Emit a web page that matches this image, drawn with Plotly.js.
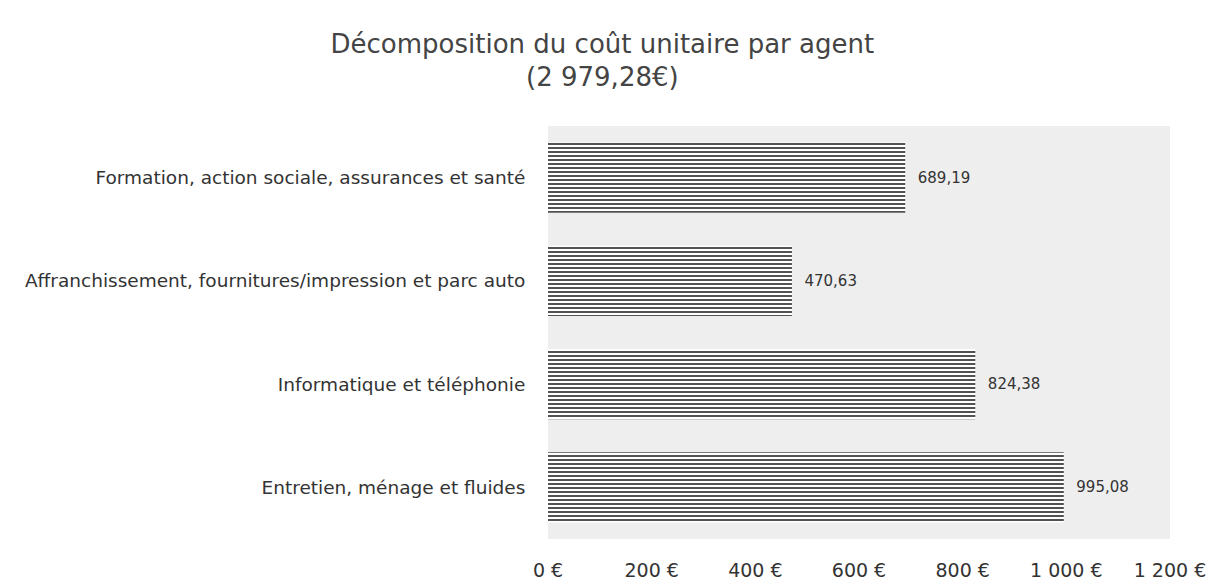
<!DOCTYPE html>
<html><head><meta charset="utf-8">
<script src="https://cdn.plot.ly/plotly-3.0.1.min.js"></script>
<style>body{margin:0;background:#fff}</style>
</head><body>
<div id="chart" style="width:1212px;height:584px"></div>
<script>
const categories = [
  "Formation, action sociale, assurances et santé",
  "Affranchissement, fournitures/impression et parc auto",
  "Informatique et téléphonie",
  "Entretien, ménage et fluides"
];
const values = [689.19, 470.63, 824.38, 995.08];
const tickValues = [0, 200, 400, 600, 800, 1000, 1200];
const tickLabels = ["0 €", "200 €", "400 €", "600 €", "800 €", "1 000 €", "1 200 €"];
const titleText = "Décomposition du coût unitaire par agent<br>(2 979,28€)";

const FONT = "'DejaVu Sans', sans-serif";

const trace = {
  type: "bar",
  orientation: "h",
  y: categories,
  x: values,
  width: 0.68,
  marker: {
    color: "#ffffff",
    line: {width: 0},
    pattern: {shape: "-", fgcolor: "#262626", bgcolor: "#ffffff", size: 4, solidity: 0.4}
  },
  texttemplate: "  %{x:.2f}",
  textposition: "outside",
  cliponaxis: false,
  textfont: {family: FONT, size: 15, color: "#333"},
  hoverinfo: "none"
};

const layout = {
  width: 1212, height: 584,
  separators: ", ",
  paper_bgcolor: "#ffffff",
  plot_bgcolor: "#eeeeee",
  margin: {l: 548, r: 42, t: 126, b: 45},
  showlegend: false,
  title: {
    text: titleText,
    x: 0.497, xanchor: "center",
    y: 0.91, yanchor: "top",
    font: {family: FONT, size: 26, color: "#444"}
  },
  xaxis: {
    range: [0, 1200],
    tickvals: tickValues,
    ticktext: tickLabels,
    showgrid: false, zeroline: false, showline: false,
    ticks: "outside", ticklen: 14, tickcolor: "rgba(0,0,0,0)",
    tickfont: {family: FONT, size: 19, color: "#333"}
  },
  yaxis: {
    autorange: "reversed",
    showgrid: false, zeroline: false, showline: false,
    ticks: "outside", ticklen: 18, tickcolor: "rgba(0,0,0,0)",
    tickfont: {family: FONT, size: 18.5, color: "#333"}
  },
  bargap: 0.32
};

Plotly.newPlot("chart", [trace], layout, {displayModeBar: false, staticPlot: true});
</script>
</body></html>
